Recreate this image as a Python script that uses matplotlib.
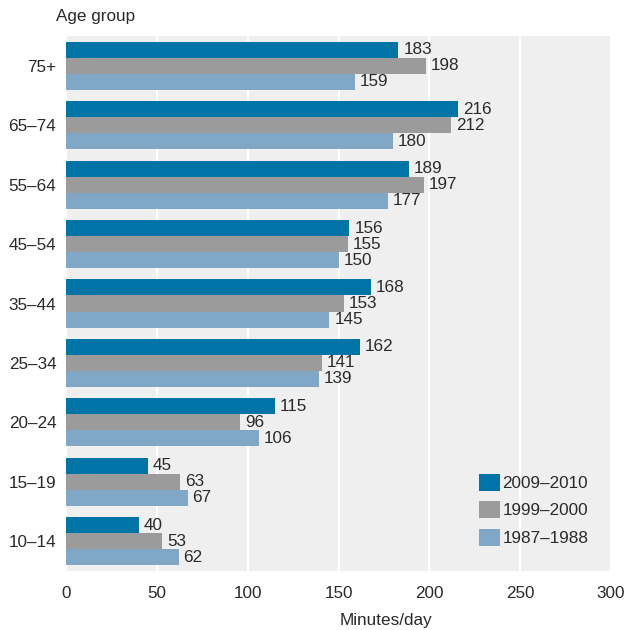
import numpy as np
import matplotlib
matplotlib.use("Agg")
import matplotlib.pyplot as plt

# data
groups = ["10–14", "15–19", "20–24", "25–34", "35–44", "45–54", "55–64", "65–74", "75+"]
series = ["2009–2010", "1999–2000", "1987–1988"]
v2009 = [40, 45, 115, 162, 168, 156, 189, 216, 183]
v1999 = [53, 63, 96, 141, 153, 155, 197, 212, 198]
v1987 = [62, 67, 106, 139, 145, 150, 177, 180, 159]
colors = ["#0074a6", "#9b9b9b", "#80a8c6"]
xticks = [0, 50, 100, 150, 200, 250, 300]

plt.rcParams['font.family'] = ['Liberation Sans', 'DejaVu Sans']
txt = "#2a2a2a"
fs = 12.3

fig = plt.figure(figsize=(6.27, 6.30), dpi=100)
ax = fig.add_axes([66/627, 1-571/630, 545/627, 535/630])
ax.set_facecolor("#efefef")

y = np.arange(len(groups))
h = 0.27
for i, (vals, c, lab) in enumerate(zip([v2009, v1999, v1987], colors, series)):
    pos = y + h - i*h
    ax.barh(pos, vals, height=h, color=c, label=lab, zorder=3)
    for p, v in zip(pos, vals):
        ax.annotate(str(v), (v, p), xytext=(3.5, 0), textcoords="offset points",
                    va="center", ha="left", fontsize=fs, color=txt, zorder=4)

ax.set_xlim(0, 300)
ax.set_ylim(-0.5, 8.5)
ax.set_xticks(xticks)
ax.set_yticks(y)
ax.set_yticklabels(groups)
ax.tick_params(length=0, labelsize=fs, colors=txt)
ax.tick_params(axis="y", pad=7)
ax.tick_params(axis="x", pad=11)
ax.xaxis.grid(True, color="white", linewidth=1.5, zorder=1)
ax.set_axisbelow(True)
for s in ax.spines.values():
    s.set_visible(False)
fig.text(386/627, 1-620/630, "Minutes/day", fontsize=fs, color=txt, va="center", ha="center")
fig.text(56/627, 1-17/630, "Age group", fontsize=fs, color=txt, va="center", ha="left")

leg = ax.legend(loc="lower right", bbox_to_anchor=(0.987, 0.018), frameon=False,
                fontsize=fs, handlelength=1.25, handleheight=1.15, handletextpad=0.15,
                labelspacing=0.6)
for t in leg.get_texts():
    t.set_color(txt)

fig.savefig("out.png", dpi=100, facecolor="white")
